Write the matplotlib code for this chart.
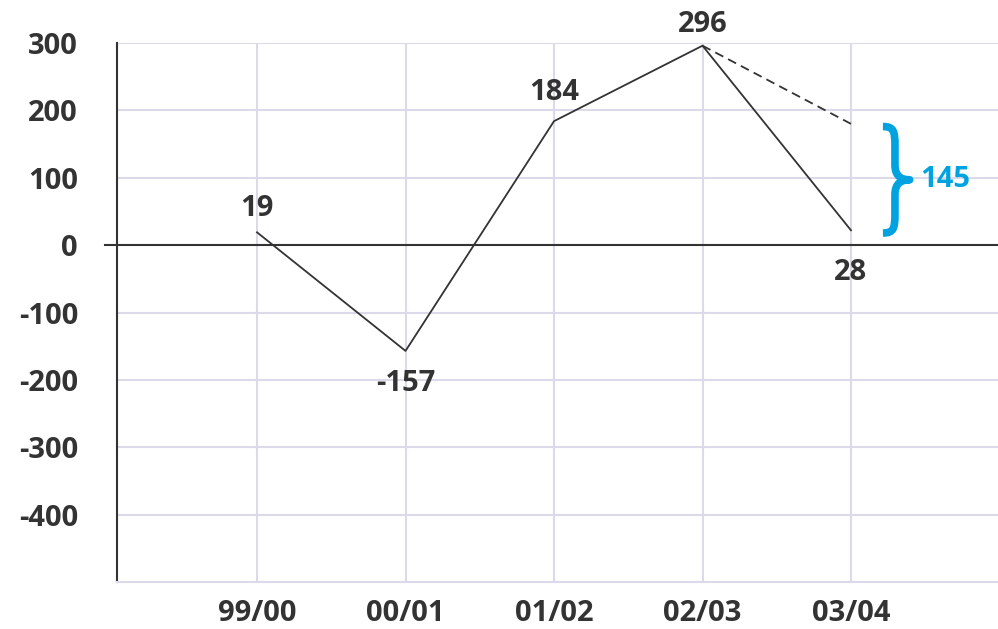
import matplotlib
matplotlib.use("Agg")
import matplotlib.pyplot as plt
from matplotlib.path import Path
from matplotlib.patches import PathPatch

categories = ["99/00", "00/01", "01/02", "02/03", "03/04"]
values = [19, -157, 184, 296, 22]
labels = ["19", "-157", "184", "296", "28"]
dashed_end = 180
brace_range = (18, 176)
gap_label = "145"
yticks = [300, 200, 100, 0, -100, -200, -300, -400]

dark = "#333333"
grid = "#dcdae8"
blue = "#00a3e0"
font = "Open Sans"

fig = plt.figure(figsize=(9.98, 6.29), dpi=100)
ax = fig.add_axes([117/998, 1-582/629, 1-117/998, (582-43)/629])
x = list(range(len(categories)))
ax.set_xlim(-0.943, 4.99)
ax.set_ylim(-500, 300)

for xi in x:
    ax.axvline(xi, color=grid, lw=1.5, zorder=1)
for yv in [300, 200, 100, -100, -200, -300, -400]:
    ax.axhline(yv, color=grid, lw=1.5, zorder=1)
ax.axhline(0, xmin=-0.0136, xmax=1, color=dark, lw=1.5, clip_on=False, zorder=3)

for s in ["top", "right"]:
    ax.spines[s].set_visible(False)
ax.spines["left"].set_color(dark)
ax.spines["left"].set_linewidth(1.5)
ax.spines["bottom"].set_color(grid)
ax.spines["bottom"].set_linewidth(1.5)

ax.plot(x, values, color=dark, lw=1.3, zorder=4)
ax.plot([x[3], x[4]], [values[3], dashed_end], color=dark, lw=1.3, ls=(0, (5, 3)), zorder=4)

# label offsets (points): positive above, negative below
offsets = [7, -13, 10, 5, -20]
for xi, v, lab, off in zip(x, values, labels, offsets):
    ax.annotate(lab, (xi, v), xytext=(0, off), textcoords="offset points",
                ha="center", va="bottom" if off > 0 else "top", fontsize=21,
                fontweight="bold", color=dark, family=font, zorder=5)

ax.set_yticks(yticks)
ax.set_yticklabels([str(t) for t in yticks])
ax.set_xticks(x)
ax.set_xticklabels(categories)
ax.tick_params(axis="y", length=0, pad=28, labelsize=21, labelcolor=dark)
ax.tick_params(axis="x", length=0, pad=12, labelsize=21, labelcolor=dark)
for t in ax.get_xticklabels() + ax.get_yticklabels():
    t.set_fontfamily(font)
    t.set_fontweight("bold")

# brace
x0, w = 4.215, 0.18
bot, top = brace_range
h = top - bot
mid = (top + bot) / 2
verts = [
    (x0, top),
    (x0 + 0.4*w, top), (x0 + 0.45*w, top - 0.04*h), (x0 + 0.45*w, top - 0.18*h),
    (x0 + 0.45*w, mid + 0.14*h),
    (x0 + 0.45*w, mid + 0.03*h), (x0 + 0.7*w, mid), (x0 + w, mid),
    (x0 + 0.7*w, mid), (x0 + 0.45*w, mid - 0.03*h), (x0 + 0.45*w, mid - 0.14*h),
    (x0 + 0.45*w, bot + 0.18*h),
    (x0 + 0.45*w, bot + 0.04*h), (x0 + 0.4*w, bot), (x0, bot),
]
codes = [Path.MOVETO, Path.CURVE4, Path.CURVE4, Path.CURVE4, Path.LINETO,
         Path.CURVE4, Path.CURVE4, Path.CURVE4, Path.CURVE4, Path.CURVE4, Path.CURVE4,
         Path.LINETO, Path.CURVE4, Path.CURVE4, Path.CURVE4]
ax.add_patch(PathPatch(Path(verts, codes), fill=False, edgecolor=blue, lw=5.5,
                       capstyle="butt", joinstyle="round", clip_on=False, zorder=5))
ax.text(x0 + w + 0.07, mid, gap_label, color=blue, fontsize=21, fontweight="bold",
        family=font, ha="left", va="center", zorder=5)

fig.savefig("out.png", dpi=100)
